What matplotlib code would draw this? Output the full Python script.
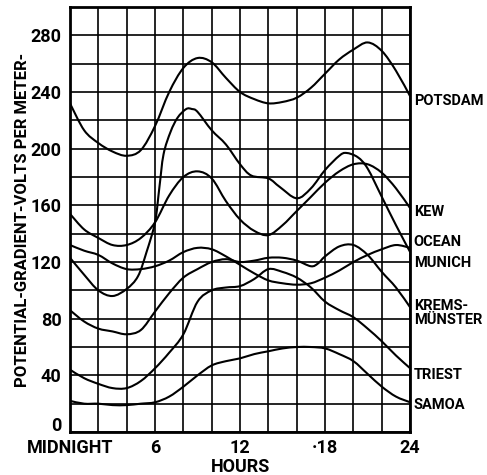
from matplotlib import pyplot as plt
from matplotlib.patches import PathPatch
from matplotlib.path import Path
from matplotlib.ticker import MultipleLocator
import matplotlib.transforms as mtransforms
import numpy as np

plt.rcParams['font.family'] = ['Roboto', 'DejaVu Sans']

HOURS_24 = [0, 1, 2, 3, 4, 5, 6, 7, 8, 9, 10, 11, 12, 13, 14, 15, 16, 17, 18,
            19, 20, 21, 22, 23, 24]

potsdam = [232, 213, 204, 198, 195, 199, 216, 240, 257, 264, 261, 250, 240,
           235, 232, 233, 236, 243, 253, 263, 270, 275, 269, 255, 237]

kew = [154, 143, 137, 132, 132, 137, 148, 167, 180, 184, 179, 163, 150, 142,
       139, 146, 156, 166, 176, 184, 189, 189, 183, 172, 158]

ocean_hours = [0, 1, 2, 3, 4, 4.8, 5.4, 6, 6.3, 6.6, 7.1, 7.6, 8.2, 8.6, 9,
               10, 11, 12, 12.8, 14, 14.8, 16, 17, 18, 19, 19.5, 20.3, 21, 22,
               23, 24]
ocean = [123, 111, 100, 96, 101, 110, 127, 148, 172, 196, 212, 222, 228, 228,
         226, 213, 203, 189, 181, 179, 173, 165, 172, 185, 195, 197, 194, 186,
         166, 146, 127]

munich = [132, 128, 125, 119, 115, 115, 117, 121, 127, 130, 129, 124, 118,
          112, 107, 105, 104, 105, 109, 114, 120, 125, 129, 132, 130]

krems_hours = [0, 1, 2, 3, 4, 5, 6, 7, 8, 9, 10, 11, 12, 13, 14, 15, 16, 17,
               17.5, 18, 19, 20, 21, 22, 23, 24]
kremsmuenster = [86, 78, 73, 71, 69, 72, 85, 98, 109, 115, 120, 122, 120, 121,
                 123, 123, 121, 117, 119, 124, 131, 132, 125, 113, 102, 88]

triest = [44, 38, 34, 31, 31, 36, 45, 56, 69, 92, 100, 102, 103, 108, 115,
          113, 109, 102, 92, 86, 81, 73, 64, 54, 45]

samoa = [22, 20, 20, 19, 19, 20, 21, 25, 32, 40, 47, 50, 52, 55, 57, 59, 60,
         60, 59, 55, 50, 41, 32, 25, 21]

station_labels = ['POTSDAM', 'KEW', 'OCEAN', 'MUNICH', 'KREMS-\nMÜNSTER',
                  'TRIEST', 'SAMOA']
label_y = [234, 155, 134, 119, 84, 40, 19]

x_tick_pos = [0, 6, 12, 18, 24]
x_tick_labels = ['MIDNIGHT', '6', '12', '·18', '24']
y_tick_pos = [0, 40, 80, 120, 160, 200, 240, 280]


def smooth_path(xs, ys):
  # catmull-rom through the read points, drawn as bezier segments
  pts = np.column_stack([xs, ys]).astype(float)
  ext = np.vstack([pts[0], pts, pts[-1]])
  verts = [pts[0]]
  codes = [Path.MOVETO]
  for i in range(len(pts) - 1):
    p0, p1, p2, p3 = ext[i], ext[i + 1], ext[i + 2], ext[i + 3]
    verts += [p1 + (p2 - p0) / 6.0, p2 - (p3 - p1) / 6.0, p2]
    codes += [Path.CURVE4] * 3
  return Path(verts, codes)


def plot_chart():
  fig = plt.figure(figsize=(4.87, 4.75), dpi=100)
  ax = fig.add_axes([0.1437, 0.0905, 0.6985, 0.8947])

  series = [
      (HOURS_24, potsdam),
      (HOURS_24, kew),
      (ocean_hours, ocean),
      (HOURS_24, munich),
      (krems_hours, kremsmuenster),
      (HOURS_24, triest),
      (HOURS_24, samoa),
  ]
  for xs, ys in series:
    ax.add_patch(PathPatch(smooth_path(xs, ys), fill=False, edgecolor='black',
                           lw=1.5, zorder=3))

  ax.set_xlim(0, 24)
  ax.set_ylim(0, 300)
  ax.xaxis.set_minor_locator(MultipleLocator(2))
  ax.yaxis.set_minor_locator(MultipleLocator(20))
  ax.set_xticks(x_tick_pos)
  ax.set_xticklabels(x_tick_labels)
  ax.set_yticks(y_tick_pos)
  ax.grid(which='both', color='black', lw=1.2)
  ax.tick_params(which='both', length=0)
  ax.tick_params(axis='x', pad=5)
  ax.tick_params(axis='y', pad=6)
  for lab in ax.get_xticklabels() + ax.get_yticklabels():
    lab.set_fontsize(13)
    lab.set_fontweight('bold')
  # lift the zero label clear of MIDNIGHT
  zero = ax.get_yticklabels()[0]
  zero.set_transform(zero.get_transform() + mtransforms.ScaledTranslation(
      0, 6 / 72.0, fig.dpi_scale_trans))
  for spine in ax.spines.values():
    spine.set_linewidth(2)

  for text, y in zip(station_labels, label_y):
    ax.text(24.25, y, text, ha='left', va='center', fontsize=10.5,
            fontweight='bold', linespacing=1.05, clip_on=False)

  ax.set_xlabel('HOURS', fontsize=13, fontweight='bold', labelpad=1)
  ax.set_ylabel('POTENTIAL-GRADIENT-VOLTS PER METER-', fontsize=12,
                fontweight='bold', va='center')
  ax.yaxis.set_label_coords(-0.14, 0.5)

  fig.savefig('out.png', dpi=100)


if __name__ == '__main__':
  plot_chart()
